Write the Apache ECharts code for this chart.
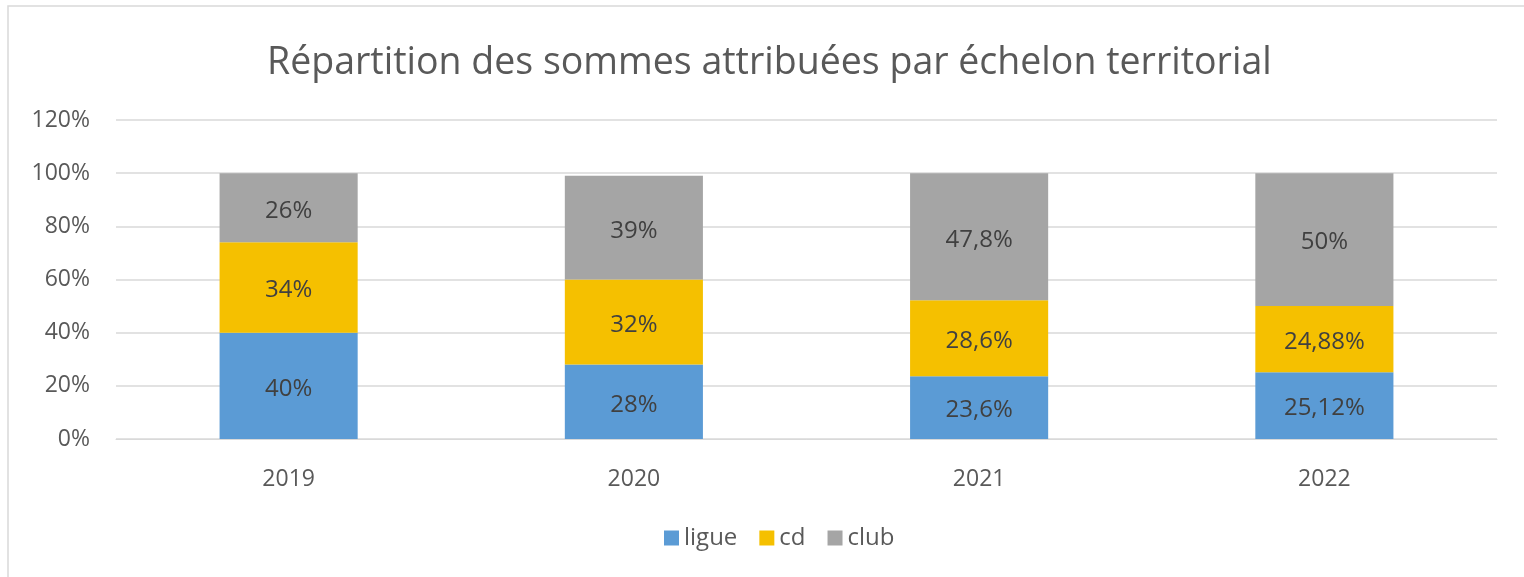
<!DOCTYPE html>
<html>
<head>
<meta charset="utf-8">
<script src="https://cdn.jsdelivr.net/npm/echarts@6/dist/echarts.min.js"></script>
<style>
  html, body { margin: 0; padding: 0; background: #fff; }
  #chart { width: 1524px; height: 577px; }
</style>
</head>
<body>
<div id="chart"></div>
<script>
// categories (years)
var years = ['2019', '2020', '2021', '2022']
// shares in percent
var ligue = [40, 28, 23.6, 25.12]
var cd = [34, 32, 28.6, 24.88]
var club = [26, 39, 47.8, 50]
var seriesNames = ['ligue', 'cd', 'club']

var FONT = 'Open Sans'

function pct(v) {
  return String(v).replace('.', ',') + '%'
}

var chart = echarts.init(document.getElementById('chart'))

function barSeries(name, data, color) {
  return {
    name: name,
    type: 'bar',
    stack: 'total',
    data: data,
    barWidth: '40%',
    itemStyle: { color: color },
    label: {
      show: true,
      position: 'inside',
      offset: [0, 3],
      color: '#404040',
      fontFamily: FONT,
      fontSize: 24,
      formatter: function(p) { return pct(p.value) }
    },
    animation: false
  }
}

chart.setOption({
  animation: false,
  graphic: [{
    type: 'rect',
    shape: { x: 8, y: 6, width: 1540, height: 620 },
    style: { fill: 'none', stroke: '#d9d9d9', lineWidth: 1.5 },
    silent: true
  }],
  title: {
    text: 'Répartition des sommes attribuées par échelon territorial',
    left: 262,
    top: 39,
    textStyle: {
      color: '#595959',
      fontFamily: FONT,
      fontSize: 37.5,
      fontWeight: 'normal'
    }
  },
  legend: {
    data: seriesNames,
    bottom: 22,
    left: 659,
    icon: 'rect',
    itemWidth: 15,
    itemHeight: 15,
    itemGap: 22,
    textStyle: { color: '#595959', fontFamily: FONT, fontSize: 24 }
  },
  grid: {
    left: 116,
    right: 27,
    top: 120,
    bottom: 138
  },
  xAxis: {
    type: 'category',
    data: years,
    axisLine: { show: true, lineStyle: { color: '#d9d9d9' } },
    axisTick: { show: false },
    axisLabel: {
      color: '#595959',
      fontFamily: FONT,
      fontSize: 23,
      margin: 29
    }
  },
  yAxis: {
    type: 'value',
    min: 0,
    max: 120,
    interval: 20,
    axisLine: { show: false },
    axisTick: { show: false },
    splitLine: { lineStyle: { color: '#d9d9d9', width: 1.5 } },
    axisLabel: {
      color: '#595959',
      fontFamily: FONT,
      fontSize: 23,
      margin: 26,
      formatter: '{value}%'
    }
  },
  series: [
    barSeries('ligue', ligue, '#5B9BD5'),
    barSeries('cd', cd, '#F5C000'),
    barSeries('club', club, '#A5A5A5')
  ]
})
</script>
</body>
</html>
